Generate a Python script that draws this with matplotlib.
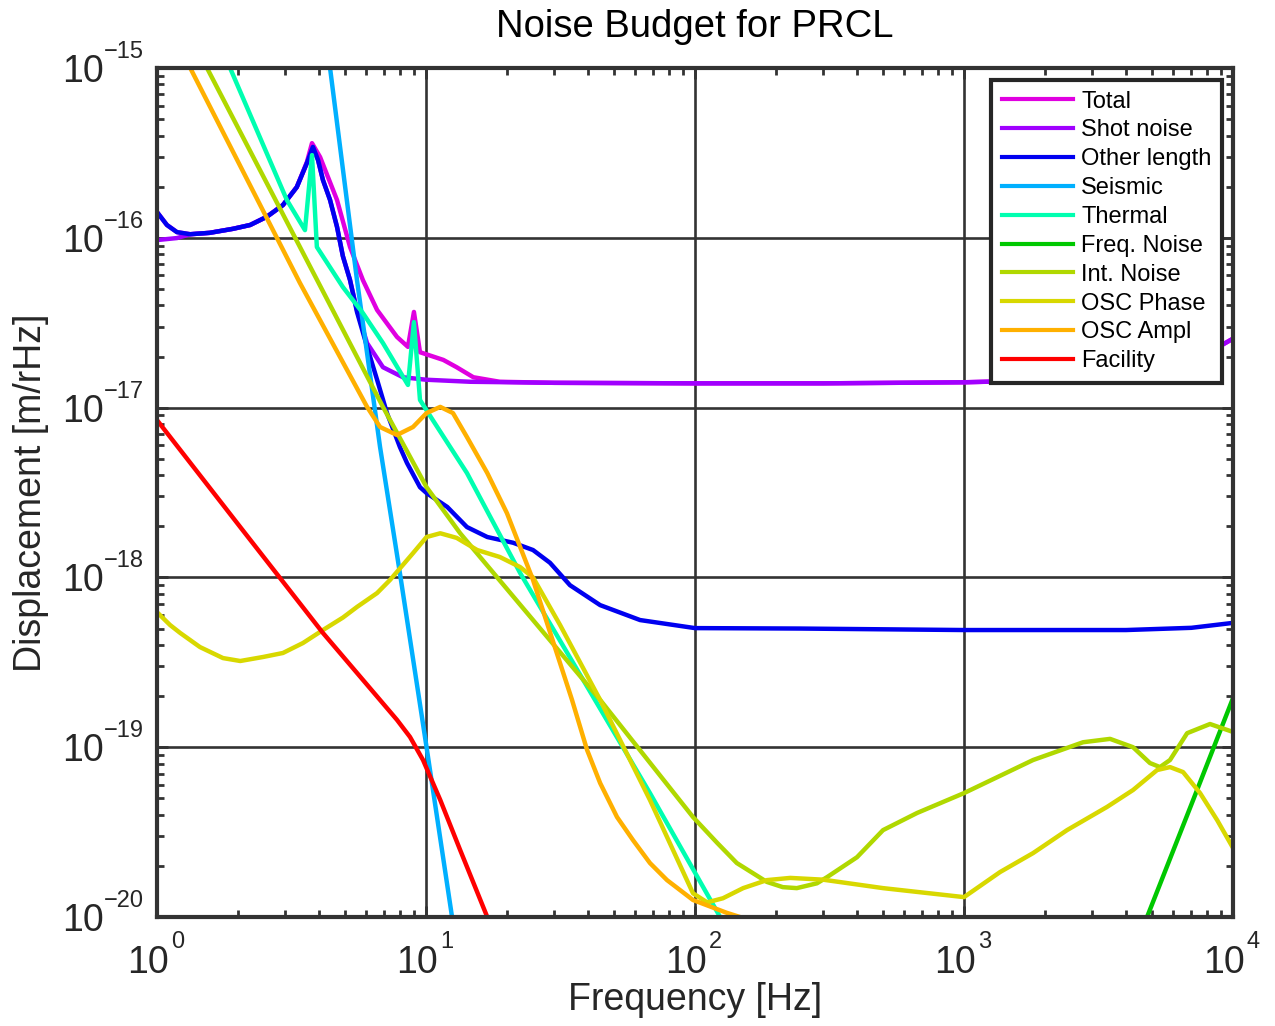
import numpy as np
import matplotlib.pyplot as plt
from matplotlib.transforms import blended_transform_factory, offset_copy
from matplotlib.ticker import NullFormatter

plt.rcParams['font.family'] = ['Liberation Sans', 'DejaVu Sans']

# ---- data (frequency in Hz, displacement in m/rHz) ----
total_f = [1, 1.089, 1.187, 1.33, 1.57, 1.917, 2.22, 2.56, 2.94, 3.31, 3.61, 3.77, 4.04, 4.67,
           5.22, 5.83, 6.58, 7.80, 8.57, 9.02, 9.50, 11.6, 13.0, 15.0, 18.8, 30, 100, 300,
           1000, 2000, 4000, 6000, 8000, 9100, 10000]
total_y = [1.42e-16, 1.19e-16, 1.08e-16, 1.05e-16, 1.07e-16, 1.13e-16, 1.19e-16, 1.33e-16,
           1.56e-16, 1.99e-16, 2.80e-16, 3.61e-16, 2.99e-16, 1.67e-16, 8.83e-17, 5.63e-17,
           3.76e-17, 2.61e-17, 2.28e-17, 3.66e-17, 2.12e-17, 1.91e-17, 1.73e-17, 1.51e-17,
           1.42e-17, 1.40e-17, 1.39e-17, 1.39e-17, 1.41e-17, 1.45e-17, 1.61e-17, 1.85e-17,
           2.14e-17, 2.34e-17, 2.55e-17]

shot_f = [1, 1.187, 1.33, 1.57, 1.917, 2.22, 2.56, 2.94, 3.31, 3.61, 3.80, 3.97, 4.14, 4.40,
          4.67, 4.91, 5.22, 5.54, 6.04, 6.92, 8.21, 10.0, 14.6, 30, 100, 300, 1000, 2000,
          4000, 6000, 8000, 9100, 10000]
shot_y = [9.7e-17, 9.97e-17, 1.05e-16, 1.07e-16, 1.13e-16, 1.19e-16, 1.33e-16, 1.56e-16,
          1.99e-16, 2.76e-16, 3.43e-16, 2.87e-16, 2.19e-16, 1.67e-16, 1.16e-16, 7.8e-17,
          5.64e-17, 3.76e-17, 2.40e-17, 1.73e-17, 1.51e-17, 1.46e-17, 1.42e-17, 1.40e-17,
          1.39e-17, 1.39e-17, 1.41e-17, 1.45e-17, 1.61e-17, 1.85e-17, 2.14e-17, 2.34e-17,
          2.55e-17]

other_f = [1, 1.089, 1.187, 1.33, 1.57, 1.917, 2.22, 2.56, 2.94, 3.31, 3.61, 3.80, 3.97, 4.14,
           4.40, 4.67, 4.91, 5.22, 5.54, 6.04, 6.58, 7.16, 8.0, 8.50, 9.50, 10.05, 12.0, 14.2,
           16.9, 21.1, 25.0, 28.9, 34.3, 44.4, 62.5, 100, 245, 1000, 4000, 7000, 10000]
other_y = [1.42e-16, 1.19e-16, 1.08e-16, 1.05e-16, 1.07e-16, 1.13e-16, 1.19e-16, 1.33e-16,
           1.56e-16, 1.99e-16, 2.76e-16, 3.43e-16, 2.87e-16, 2.19e-16, 1.67e-16, 1.16e-16,
           7.8e-17, 5.64e-17, 3.66e-17, 2.28e-17, 1.46e-17, 9.3e-18, 5.86e-18, 4.72e-18,
           3.40e-18, 3.14e-18, 2.60e-18, 1.98e-18, 1.73e-18, 1.60e-18, 1.45e-18, 1.22e-18,
           9.0e-19, 6.87e-19, 5.61e-19, 5.03e-19, 5.0e-19, 4.9e-19, 4.9e-19, 5.05e-19, 5.4e-19]

seismic_f = [4.40, 5.54, 6.75, 8.0, 10.05, 12.5]
seismic_y = [1e-15, 5.64e-17, 5.86e-18, 1.06e-18, 1e-19, 1e-20]

thermal_f = [1.87, 3.04, 3.55, 3.77, 3.93, 4.91, 5.83, 6.92, 8.57, 9.02, 9.50, 10.6, 14.2,
             22.4, 68, 124]
thermal_y = [1e-15, 1.67e-16, 1.11e-16, 3.07e-16, 8.83e-17, 5.13e-17, 3.6e-17, 2.40e-17,
             1.36e-17, 3.19e-17, 1.11e-17, 8.45e-18, 4.12e-18, 1.06e-18, 5.37e-20, 1e-20]

freq_f = [4790, 7000, 10000]
freq_y = [1e-20, 4.6e-20, 1.95e-19]

int_f = [1.535, 6.92, 10.05, 13.4, 18.4, 44.4, 98.3, 121, 143, 185, 212, 239, 284, 310, 400,
         500, 669, 1000, 1806, 2770, 3490, 4250, 4910, 5350, 5830, 6750, 8210, 10000]
int_y = [1e-15, 1.01e-17, 3.40e-18, 1.82e-18, 1.0e-18, 1.90e-19, 3.88e-20, 2.73e-20, 2.08e-20,
         1.61e-20, 1.50e-20, 1.48e-20, 1.58e-20, 1.72e-20, 2.25e-20, 3.25e-20, 4.10e-20,
         5.37e-20, 8.41e-20, 1.07e-19, 1.12e-19, 1.0e-19, 8.07e-20, 7.64e-20, 8.41e-20,
         1.21e-19, 1.37e-19, 1.23e-19]

phase_f = [1, 1.118, 1.22, 1.445, 1.76, 2.04, 2.48, 2.94, 3.49, 4.14, 4.91, 5.54, 6.58, 7.35,
           8.95, 10.05, 11.3, 13.0, 15.5, 18.8, 22.4, 25.0, 31.5, 44.4, 68, 98.3, 111, 127,
           151, 185, 226, 299, 500, 1000, 1361, 1806, 2415, 3400, 4250, 5220, 5830, 6520,
           7540, 8730, 10000]
phase_y = [6.25e-19, 5.25e-19, 4.71e-19, 3.89e-19, 3.35e-19, 3.22e-19, 3.40e-19, 3.59e-19,
           4.11e-19, 4.90e-19, 5.8e-19, 6.70e-19, 8.09e-19, 9.66e-19, 1.39e-18, 1.73e-18,
           1.82e-18, 1.71e-18, 1.45e-18, 1.32e-18, 1.15e-18, 1.0e-18, 5.25e-19, 1.90e-19,
           4.89e-20, 1.38e-20, 1.22e-20, 1.29e-20, 1.48e-20, 1.65e-20, 1.70e-20, 1.66e-20,
           1.48e-20, 1.31e-20, 1.84e-20, 2.38e-20, 3.25e-20, 4.45e-20, 5.6e-20, 7.34e-20,
           7.64e-20, 7.14e-20, 5.37e-20, 3.72e-20, 2.55e-20]

ampl_f = [1.33, 3.40, 6.04, 6.75, 7.80, 8.95, 10.05, 11.3, 12.6, 14.2, 16.9, 20.0, 25.0, 34.9,
          39.7, 44.4, 51.3, 58.8, 68, 78.7, 98.3, 131, 147]
ampl_y = [1e-15, 5.42e-17, 1.01e-17, 7.69e-18, 6.9e-18, 7.69e-18, 9.29e-18, 1.01e-17,
          9.29e-18, 6.71e-18, 4.12e-18, 2.39e-18, 9.66e-19, 1.90e-19, 9.64e-20, 6.15e-20,
          3.88e-20, 2.84e-20, 2.08e-20, 1.65e-20, 1.26e-20, 1.06e-20, 1e-20]

facility_f = [1, 2.04, 4.14, 7.80, 8.72, 9.75, 11.3, 13.4, 16.9]
facility_y = [8.45e-18, 1.98e-18, 4.71e-19, 1.45e-19, 1.15e-19, 8.41e-20, 4.89e-20, 2.48e-20,
              1e-20]

series = [
    ('Total', total_f, total_y, '#E000E0'),
    ('Shot noise', shot_f, shot_y, '#A000FF'),
    ('Other length', other_f, other_y, '#0000F0'),
    ('Seismic', seismic_f, seismic_y, '#00B0FF'),
    ('Thermal', thermal_f, thermal_y, '#00FFB0'),
    ('Freq. Noise', freq_f, freq_y, '#00C800'),
    ('Int. Noise', int_f, int_y, '#B0D800'),
    ('OSC Phase', phase_f, phase_y, '#D8D800'),
    ('OSC Ampl', ampl_f, ampl_y, '#FFB000'),
    ('Facility', facility_f, facility_y, '#FF0000'),
]

xdecades = [0, 1, 2, 3, 4]
ydecades = [-20, -19, -18, -17, -16, -15]

fig = plt.figure(figsize=(12.75, 10.26), dpi=100)
ax = fig.add_axes([0.1231, 0.1062, 0.8440, 0.8275])

for name, f, y, c in series:
    ax.loglog(f, y, color=c, lw=3.2, label=name, solid_joinstyle='round')

ax.set_xlim(1, 1e4)
ax.set_ylim(1e-20, 1e-15)
ax.set_axisbelow(True)
ax.grid(True, which='major', color='#333333', lw=1.9)
ax.grid(False, which='minor')

dark = '#333333'
txt = '#262626'
for s in ax.spines.values():
    s.set_linewidth(3)
    s.set_color(dark)
ax.tick_params(which='both', direction='in', top=True, right=True, color=dark,
               labelleft=False, labelbottom=False)
ax.tick_params(which='major', length=8, width=2)
ax.tick_params(which='minor', length=5, width=2)
ax.xaxis.set_minor_formatter(NullFormatter())
ax.yaxis.set_minor_formatter(NullFormatter())

# MATLAB-style "10^n" tick labels: big base, small raised exponent
tx = blended_transform_factory(ax.transData, ax.transAxes)
ty = blended_transform_factory(ax.transAxes, ax.transData)
for d in xdecades:
    ax.text(10.0 ** d, 0, '10', fontsize=27, color=txt, ha='right', va='baseline',
            transform=offset_copy(tx, fig=fig, x=8.6, y=-40.3, units='points'))
    ax.text(10.0 ** d, 0, str(d), fontsize=17, color=txt, ha='left', va='baseline',
            transform=offset_copy(tx, fig=fig, x=10.0, y=-22.3, units='points'))
for d in ydecades:
    ax.text(0, 10.0 ** d, '10', fontsize=27, color=txt, ha='right', va='baseline',
            transform=offset_copy(ty, fig=fig, x=-38.2, y=-10.1, units='points'))
    ax.text(0, 10.0 ** d, '\u2212' + str(-d), fontsize=17, color=txt, ha='left',
            va='baseline', transform=offset_copy(ty, fig=fig, x=-38.2, y=7.2, units='points'))

ax.set_xlabel('Frequency [Hz]', fontsize=27, color=txt)
ax.xaxis.set_label_coords(0.5, -0.0765)
ax.set_ylabel('Displacement [m/rHz]', fontsize=27, color=txt)
ax.yaxis.set_label_coords(-0.100, 0.5)
ax.set_title('Noise Budget for PRCL', fontsize=27.5, pad=22)

leg = ax.legend(loc='upper right', bbox_to_anchor=(0.9898, 0.9859), borderaxespad=0,
                fontsize=17, handlelength=3.0, handletextpad=0.35, labelspacing=0.29,
                borderpad=0.45, fancybox=False, framealpha=1)
leg.get_frame().set_edgecolor(txt)
leg.get_frame().set_linewidth(3)
for line in leg.get_lines():
    line.set_linewidth(3)

fig.savefig('out.png', dpi=100, facecolor='white')
